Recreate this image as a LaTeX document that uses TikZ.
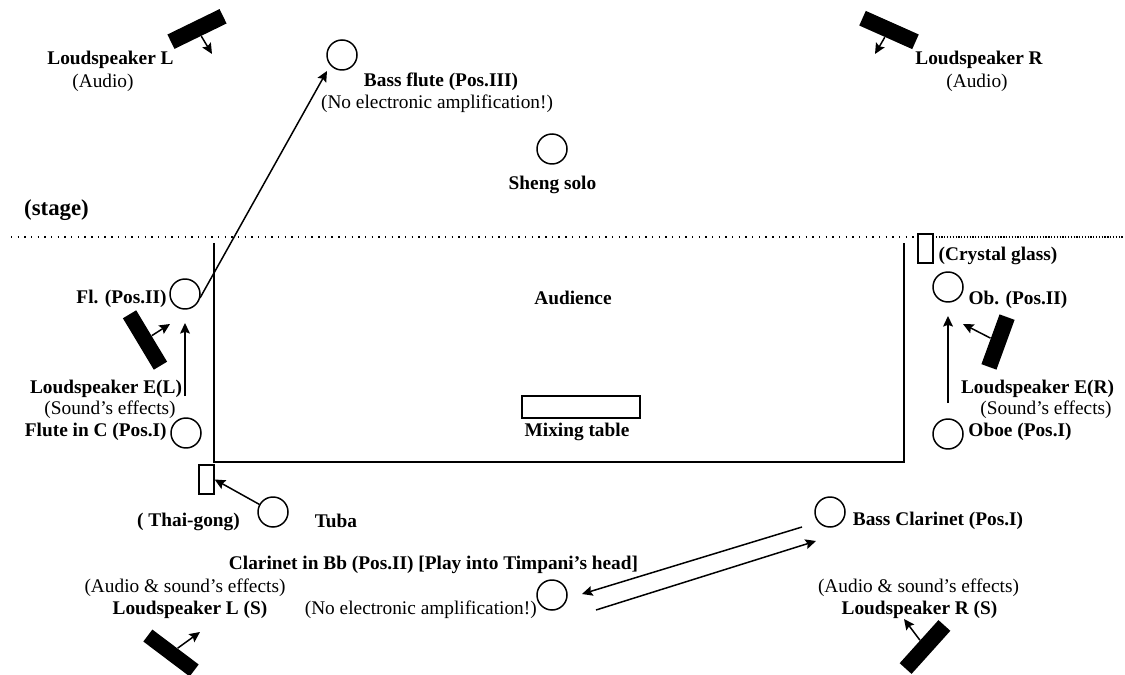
\documentclass[tikz,border=0pt]{standalone}
\usepackage{fontspec}
\setmainfont{Liberation Serif}
\usetikzlibrary{arrows.meta}
\tikzset{x=0.02cm,y=-0.02cm,
 inst/.style={circle,draw,line width=0.85pt,minimum size=0.6cm,inner sep=0pt},
 lbl/.style={font=\fontsize{11pt}{12pt}\selectfont,inner sep=0pt,align=center,yshift=-0.04cm},
 b/.style={lbl,font=\fontsize{11pt}{12pt}\selectfont\bfseries},
 arr/.style={-{Stealth[length=6pt,width=5.6pt,inset=1pt]},line width=0.85pt},
 spk/.style={fill=black,draw=none,minimum width=1.16cm,minimum height=0.32cm,inner sep=0pt,rectangle},
 box/.style={draw,line width=0.75pt,inner sep=0pt,rectangle},
 ln/.style={line width=0.9pt}}
\begin{document}
\begin{tikzpicture}
\useasboundingbox (0,0) rectangle (1125,675);
% speakers
\node[spk,rotate=26] (s1) at (197,29) {};
\coordinate (s1a) at (212,54); \draw[arr] (s1) -- (s1a);
\node[spk,rotate=-24] (s2) at (889,30) {};
\coordinate (s2a) at (875,54); \draw[arr] (s2) -- (s2a);
\node[spk,rotate=-59,minimum height=0.31cm,minimum width=1.2cm] (s3) at (145,340) {};
\coordinate (s3a) at (170,324); \draw[arr] (s3) -- (s3a);
\node[spk,rotate=70,minimum width=1.06cm] (s4) at (998,342) {};
\coordinate (s4a) at (963,324); \draw[arr] (s4) -- (s4a);
\node[spk,rotate=-37,minimum height=0.3cm] (s5) at (171,653) {};
\coordinate (s5a) at (200,632); \draw[arr] (s5) -- (s5a);
\node[spk,rotate=48] (s6) at (925,647) {};
\coordinate (s6a) at (904,619); \draw[arr] (s6) -- (s6a);
% instruments
\node[inst] (bf) at (342,55) {};
\node[inst] (sh) at (552,149) {};
\node[inst] (fl2) at (185,294) {};
\node[inst] (fl1) at (186,433) {};
\node[inst] (ob2) at (948,287) {};
\node[inst] (ob1) at (948,434) {};
\node[inst] (tu) at (273,512) {};
\node[inst] (bc) at (830,512) {};
\node[inst] (cl) at (552,595) {};
% boxes
\node[box,minimum width=0.3cm,minimum height=0.58cm] (cg) at (925.5,248.5) {};
\node[box,minimum width=0.3cm,minimum height=0.58cm] (tg) at (206.5,479.5) {};
\node[box,minimum width=2.36cm,minimum height=0.44cm] (mx) at (581,407) {};
% lines
\coordinate (d1) at (11,237); \coordinate (d2) at (918,237);
\coordinate (d3) at (933,237); \coordinate (d4) at (1124,237);
\draw[line width=0.8pt,dash pattern=on 0.8pt off 3pt] (d1) -- (d2);
\draw[line width=0.7pt,dash pattern=on 0.7pt off 0.9pt] (d3) -- (d4);
\coordinate (a1) at (214,243); \coordinate (a2) at (214,462);
\coordinate (a3) at (904,462); \coordinate (a4) at (904,243);
\draw[ln] (a1) -- (a2) -- (a3) -- (a4);
% arrows
\coordinate (fa) at (200,298); \coordinate (fb) at (327,71);
\draw[arr] (fa) -- (fb);
\coordinate (f1t) at (185,396); \coordinate (f1h) at (185,323);
\draw[arr] (f1t) -- (f1h);
\coordinate (o1t) at (948,403); \coordinate (o1h) at (948,316);
\draw[arr] (o1t) -- (o1h);
\draw[arr] (tu) -- (tg.east);
\coordinate (c1) at (596,610); \coordinate (c2) at (816,541);
\draw[arr] (c1) -- (c2);
\coordinate (c3) at (802,527); \coordinate (c4) at (582,594);
\draw[arr] (c3) -- (c4);
% labels
\node[b] (t1) at (110.5,58) {Loudspeaker L};
\node[lbl] (t2) at (103,81) {(Audio)};
\node[b] (t3) at (979,58) {Loudspeaker R};
\node[lbl] (t4) at (977,81) {(Audio)};
\node[b] (t5) at (441,80) {Bass flute (Pos.III)};
\node[lbl] (t6) at (437,102) {(No electronic amplification!)};
\node[b] (t7) at (552.5,183) {Sheng solo};
\node[b,font=\fontsize{13pt}{14pt}\selectfont\bfseries] (t8) at (56.5,208) {(stage)};
\node[b] (t9) at (998,254) {(Crystal glass)};
\node[b,anchor=east] (t10) at (167,297) {Fl. (Pos.II)};
\node[b] (t11) at (573,296) {Audience};
\node[b] (t12) at (1018,298) {Ob. (Pos.II)};
\node[b] (t13) at (106,387) {Loudspeaker E(L)};
\node[lbl] (t14) at (110,408) {(Sound’s effects)};
\node[b,anchor=east] (t15) at (167,430) {Flute in C (Pos.I)};
\node[b] (t16) at (1037.5,387) {Loudspeaker E(R)};
\node[lbl] (t17) at (1046,408) {(Sound’s effects)};
\node[b] (t18) at (1020,430) {Oboe (Pos.I)};
\node[b] (t19) at (577,430) {Mixing table};
\node[b] (t20) at (188.5,520) {( Thai-gong)};
\node[b] (t21) at (336,519) {Tuba};
\node[b] (t22) at (938,519) {Bass Clarinet (Pos.I)};
\node[b] (t23) at (433.5,563) {Clarinet in Bb (Pos.II) [Play into Timpani’s head]};
\node[lbl] (t24) at (185,586) {(Audio \& sound’s effects)};
\node[b] (t25) at (190,608) {Loudspeaker L (S)};
\node[lbl,anchor=east] (t26) at (537,608) {(No electronic amplification!)};
\node[lbl] (t27) at (918.5,586) {(Audio \& sound’s effects)};
\node[b] (t28) at (919.5,608) {Loudspeaker R (S)};
\end{tikzpicture}
\end{document}
